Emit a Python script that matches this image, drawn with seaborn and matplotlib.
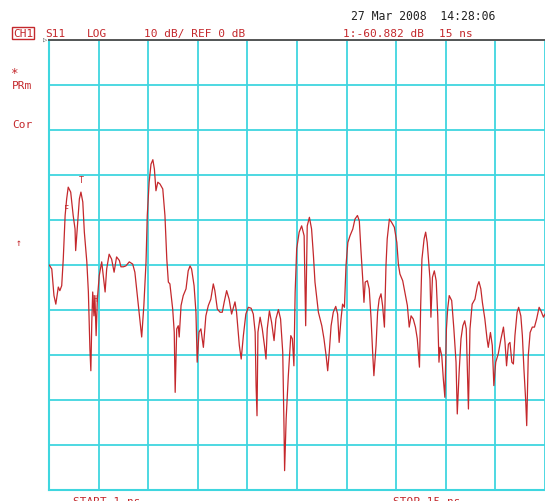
import matplotlib
matplotlib.use("Agg")
import matplotlib.pyplot as plt
import seaborn as sns
import pandas as pd

# S11 time-domain trace: time (ns) and level (dB)
time_ns = [
    -0.99, -0.91, -0.84, -0.78, -0.70, -0.65, -0.59, -0.54, -0.48, -0.43,
    -0.38, -0.30, -0.22, -0.16, -0.14, -0.09, -0.02, 0.03, 0.09, 0.14,
    0.22, 0.27, 0.32, 0.35, 0.38, 0.41, 0.45, 0.48, 0.52, 0.56,
    0.62, 0.70, 0.75, 0.81, 0.86, 0.94, 1.02, 1.10, 1.18, 1.27,
    1.32, 1.40, 1.48, 1.59, 1.70, 1.77, 1.85, 1.94, 1.99, 2.06,
    2.13, 2.17, 2.23, 2.29, 2.35, 2.40, 2.45, 2.51, 2.58, 2.67,
    2.74, 2.80, 2.85, 2.90, 2.99, 3.04, 3.07, 3.12, 3.17, 3.20,
    3.26, 3.33, 3.42, 3.49, 3.55, 3.60, 3.68, 3.74, 3.78, 3.84,
    3.90, 3.98, 4.06, 4.14, 4.22, 4.30, 4.35, 4.43, 4.52, 4.59,
    4.65, 4.73, 4.81, 4.89, 5.00, 5.05, 5.14, 5.20, 5.27, 5.35,
    5.43, 5.52, 5.59, 5.65, 5.68, 5.71, 5.74, 5.81, 5.88, 5.95,
    6.00, 6.04, 6.11, 6.18, 6.26, 6.32, 6.40, 6.47, 6.54, 6.58,
    6.60, 6.65, 6.72, 6.80, 6.85, 6.90, 6.94, 6.99, 7.07, 7.15,
    7.23, 7.28, 7.33, 7.40, 7.47, 7.53, 7.58, 7.69, 7.80, 7.87,
    7.94, 7.99, 8.04, 8.10, 8.17, 8.25, 8.31, 8.36, 8.42, 8.47,
    8.53, 8.58, 8.64, 8.71, 8.80, 8.87, 8.95, 9.01, 9.06, 9.12,
    9.16, 9.20, 9.27, 9.33, 9.39, 9.44, 9.48, 9.55, 9.60, 9.65,
    9.71, 9.76, 9.82, 9.87, 9.91, 9.98, 10.05, 10.14, 10.22, 10.27,
    10.32, 10.41, 10.48, 10.56, 10.62, 10.68, 10.75, 10.82, 10.88, 10.95,
    10.99, 11.03, 11.10, 11.15, 11.20, 11.29, 11.32, 11.37, 11.43, 11.49,
    11.54, 11.58, 11.61, 11.67, 11.72, 11.77, 11.82, 11.86, 11.91, 11.99,
    12.06, 12.13, 12.17, 12.23, 12.29, 12.35, 12.41, 12.46, 12.53, 12.58,
    12.65, 12.74, 12.82, 12.87, 12.93, 12.98, 13.06, 13.13, 13.17, 13.24,
    13.30, 13.35, 13.41, 13.49, 13.58, 13.66, 13.71, 13.76, 13.82, 13.87,
    13.93, 13.98, 14.03, 14.10, 14.15, 14.22, 14.27, 14.32, 14.38, 14.41,
    14.46, 14.52, 14.59, 14.66, 14.73, 14.81, 14.87, 14.95, 15.00,
]
level_db = [
    -50.0, -50.9, -56.8, -58.7, -54.9, -55.7, -54.6, -48.7, -39.0, -35.3,
    -32.7, -33.8, -39.0, -42.0, -46.8, -42.0, -35.3, -33.8, -36.0, -42.7,
    -49.3, -56.0, -68.7, -73.5, -62.7, -56.0, -61.3, -56.8, -65.7, -57.6,
    -52.4, -49.3, -52.4, -56.0, -50.9, -47.6, -48.7, -51.6, -48.2, -49.0,
    -50.4, -50.4, -50.2, -49.3, -49.8, -51.6, -56.8, -62.7, -66.0, -59.0,
    -49.3, -39.0, -31.6, -27.6, -26.6, -28.7, -33.5, -31.6, -32.0, -33.1,
    -39.0, -48.7, -53.8, -54.2, -59.8, -64.9, -78.3, -64.2, -63.5, -66.0,
    -59.0, -56.8, -55.3, -51.3, -50.2, -50.9, -54.6, -60.5, -71.6, -64.9,
    -64.2, -68.3, -61.3, -59.0, -57.6, -54.2, -55.7, -59.8, -60.5, -60.5,
    -58.3, -55.7, -57.6, -60.9, -58.2, -60.5, -67.9, -70.9, -65.7, -60.9,
    -59.4, -59.6, -60.9, -64.9, -76.8, -83.5, -64.9, -61.6, -64.2, -67.9,
    -70.9, -64.2, -60.2, -62.7, -66.8, -62.0, -59.9, -62.0, -69.4, -85.7,
    -95.7, -84.2, -74.6, -65.7, -66.4, -72.4, -56.1, -46.4, -42.7, -41.3,
    -43.5, -63.5, -41.3, -39.4, -42.0, -47.9, -53.8, -60.5, -63.5, -66.4,
    -70.2, -73.5, -69.4, -63.5, -60.5, -59.2, -60.9, -67.2, -62.0, -58.7,
    -59.4, -50.2, -45.0, -43.5, -42.0, -39.8, -39.0, -40.2, -46.4, -53.1,
    -58.3, -53.8, -53.5, -55.3, -62.0, -69.4, -74.6, -67.9, -60.5, -57.6,
    -56.4, -59.0, -63.8, -50.2, -44.2, -39.8, -40.5, -41.6, -45.0, -49.8,
    -52.0, -53.5, -56.1, -59.0, -63.8, -61.3, -62.0, -63.8, -66.4, -72.7,
    -59.0, -48.7, -44.2, -42.7, -45.0, -53.1, -61.6, -52.7, -51.3, -53.5,
    -61.3, -71.6, -68.3, -70.2, -75.3, -79.4, -64.2, -59.8, -56.8, -57.9,
    -64.2, -71.6, -83.1, -73.8, -66.4, -63.5, -62.4, -64.2, -82.0, -64.2,
    -58.7, -57.6, -54.6, -53.7, -55.3, -58.3, -62.0, -66.4, -68.3, -65.0,
    -67.9, -76.8, -71.6, -69.8, -66.4, -63.8, -67.2, -72.4, -67.6, -67.2,
    -71.6, -72.0, -65.7, -60.5, -59.4, -61.3, -65.7, -73.1, -80.5, -85.7,
    -70.2, -65.0, -63.8, -63.8, -62.0, -59.4, -60.2, -61.6, -60.882,
]

# screen settings
start_ns = -1
stop_ns = 15
ref_db = 0
db_per_div = 10
n_div = 10

# analyzer markers shown on the trace
marker_labels = ["F", "T", "H"]
marker_time = [-0.45, 0.03, 0.48]
marker_db = [-37.5, -31.0, -57.5]

RED = "#c4282c"
CYAN = "#3fd6df"

df = pd.DataFrame({"t": time_ns, "db": level_db})

sns.set_style("white")
plt.rcParams["font.family"] = ["DejaVu Sans Mono", "DejaVu Sans"]

W, H = 545, 502
fig = plt.figure(figsize=(W / 100, H / 100), dpi=100)
ax = fig.add_axes([49 / W, (H - 491) / H, 496 / W, 450 / H])

span = (stop_ns - start_ns) / n_div
ax.set_xlim(start_ns, stop_ns)
ax.set_ylim(ref_db - n_div * db_per_div, ref_db)
ax.set_xticks([start_ns + k * span for k in range(n_div + 1)])
ax.set_yticks([ref_db - k * db_per_div for k in range(n_div + 1)])
ax.grid(True, color=CYAN, lw=1.3)
ax.tick_params(length=0, labelbottom=False, labelleft=False)
for side in ["left", "bottom"]:
    ax.spines[side].set_color(CYAN)
    ax.spines[side].set_linewidth(1.5)
ax.spines["right"].set_visible(False)
ax.spines["top"].set_color("#555555")
ax.spines["top"].set_linewidth(1.4)

sns.lineplot(data=df, x="t", y="db", sort=False, estimator=None,
             color=RED, lw=0.9, ax=ax, zorder=3)
for lab, t, d in zip(marker_labels, marker_time, marker_db):
    ax.text(t, d, lab, color=RED, fontsize=6, ha="center", va="center", zorder=4)
ax.set_xlabel("")
ax.set_ylabel("")


def ftxt(x, y, s, **kw):
    kw.setdefault("color", RED)
    kw.setdefault("fontsize", 8)
    kw.setdefault("va", "center")
    fig.text(x / W, 1 - y / H, s, **kw)


ftxt(351, 17, "27 Mar 2008  14:28:06", color="#222222", fontsize=8.3)
ftxt(13, 34, "CH1", bbox=dict(boxstyle="square,pad=0.1", fc="none", ec=RED, lw=1))
ftxt(45, 34, "S11")
ftxt(87, 34, "LOG")
ftxt(144, 34, "10 dB/ REF 0 dB")
ftxt(343, 34, "1:-60.882 dB")
ftxt(439, 34, "15 ns")
ftxt(43, 41, "\u25b7", color="#444444", fontsize=5)
ftxt(10, 73, "*", fontsize=9)
ftxt(12, 86, "PRm")
ftxt(12, 125, "Cor")
ftxt(16, 243, "\u2191", fontsize=7)
ftxt(73, 497, "START-1 ns", va="top")
ftxt(393, 497, "STOP 15 ns", va="top")

fig.savefig("out.png", dpi=100, facecolor="white")
